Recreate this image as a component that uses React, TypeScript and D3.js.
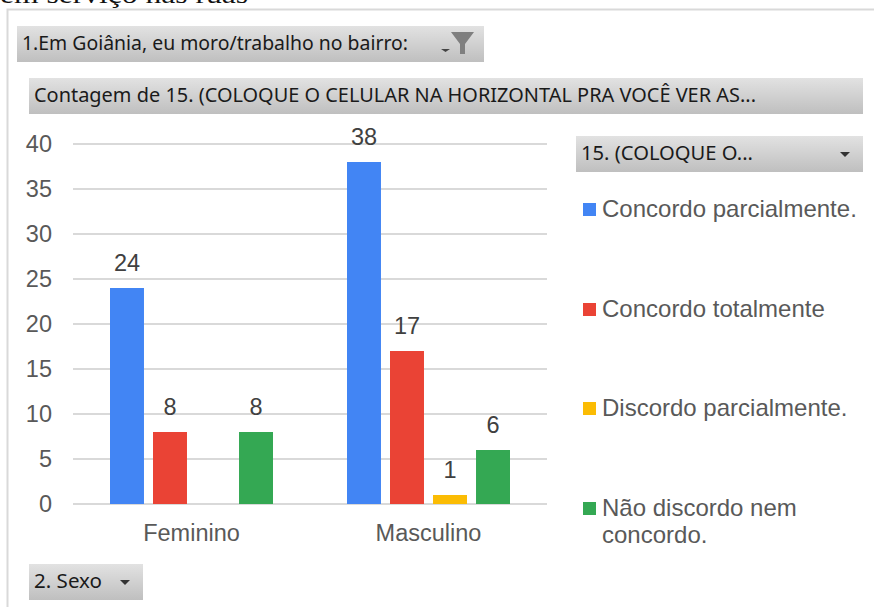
import React from "react";
import * as d3 from "d3";

const categories = ["Feminino", "Masculino"];
const seriesNames = ["Concordo parcialmente.", "Concordo totalmente", "Discordo parcialmente.", "Não discordo nem concordo."];
const legendLines = [["Concordo parcialmente."], ["Concordo totalmente"], ["Discordo parcialmente."], ["Não discordo nem", "concordo."]];
const colors = ["#4285f4", "#ea4335", "#fbbc04", "#34a853"];
const feminino = [24, 8, null, 8];
const masculino = [38, 17, 1, 6];
const yTicks = [0, 5, 10, 15, 20, 25, 30, 35, 40];
const legendY = [209, 309, 408, 508];

const sans = "'Noto Sans', sans-serif";
const chartFont = "'Liberation Sans', Arial, sans-serif";

function Button({ x, y, w, h, text, size = 19, arrow }: any) {
  return (
    <g>
      <rect x={x} y={y} width={w} height={h} fill="url(#btn)" />
      <text x={x + 5} y={y + h / 2 + 6} fontFamily={sans} fontSize={size} fill="#1a1a1a" textLength={text.tl} lengthAdjust="spacingAndGlyphs">{text.s}</text>
      {arrow && <path d={`M${arrow - 5},${y + h / 2 - 2}h10l-5,5z`} fill="#333" />}
    </g>
  );
}

export default function App() {
  const x0 = d3.scaleBand().domain(categories).range([73, 547]);
  const x1 = d3.scaleBand().domain(seriesNames).range([0, 163]).paddingInner(0.21);
  const y = d3.scaleLinear().domain([0, 40]).range([504, 144]);
  const values = [feminino, masculino];
  return (
    <svg width={874} height={607} style={{ position: "absolute", left: 0, top: 0, background: "#fff" }}>
      <defs>
        <linearGradient id="btn" x1="0" y1="0" x2="0" y2="1">
          <stop offset="0" stopColor="#e2e2e2" />
          <stop offset="1" stopColor="#bfbfbf" />
        </linearGradient>
      </defs>
      <text x={0} y={3} fontFamily="'Liberation Serif', serif" fontSize={25} fill="#111" textLength={248} lengthAdjust="spacingAndGlyphs">em serviço nas ruas</text>
      <path d="M874,9.5H7.5V607" fill="none" stroke="#d9d9d9" strokeWidth={2} />

      <Button x={17} y={26} w={467} h={36} text={{ s: "1.Em Goiânia, eu moro/trabalho no bairro:", tl: 386 }} />
      <path d="M441,49h9l-4.5,3z" fill="#444" />
      <path d="M451,32h23l-9,12v10h-5v-10z" fill="#7f7f7f" />
      <Button x={29} y={78} w={834} h={36} text={{ s: "Contagem de 15. (COLOQUE O CELULAR NA HORIZONTAL PRA VOCÊ VER AS...", tl: 722 }} />
      <Button x={576} y={136} w={287} h={36} text={{ s: "15. (COLOQUE O...", tl: 172 }} arrow={845} />
      <Button x={29} y={564} w={114} h={36} text={{ s: "2. Sexo", tl: 68 }} arrow={125} />

      {yTicks.map((t) => (
        <g key={t}>
          <line x1={73} x2={547} y1={y(t)} y2={y(t)} stroke="#d9d9d9" strokeWidth={2} />
          <text x={52} y={y(t) + 8} textAnchor="end" fontFamily={chartFont} fontSize={23.5} fill="#595959">{t}</text>
        </g>
      ))}

      {categories.map((c, i) => (
        <g key={c}>
          {seriesNames.map((s, j) => {
            const v = values[i][j];
            if (v == null) return null;
            const bx = x0(c)! + (x0.bandwidth() - 163) / 2 + x1(s)!;
            return (
              <g key={s}>
                <rect x={bx} y={y(v)} width={x1.bandwidth()} height={504 - y(v)} fill={colors[j]} />
                <text x={bx + x1.bandwidth() / 2} y={y(v) - 17} textAnchor="middle" fontFamily={chartFont} fontSize={23.5} fill="#404040">{v}</text>
              </g>
            );
          })}
          <text x={x0(c)! + x0.bandwidth() / 2} y={541} textAnchor="middle" fontFamily={chartFont} fontSize={23.5} fill="#595959">{c}</text>
        </g>
      ))}

      {legendLines.map((lines, i) => (
        <g key={i}>
          <rect x={583} y={legendY[i] - 6} width={13} height={13} fill={colors[i]} />
          {lines.map((l, k) => (
            <text key={l} x={602} y={legendY[i] + 8 + k * 27} fontFamily={chartFont} fontSize={24} fill="#595959">{l}</text>
          ))}
        </g>
      ))}
    </svg>
  );
}
